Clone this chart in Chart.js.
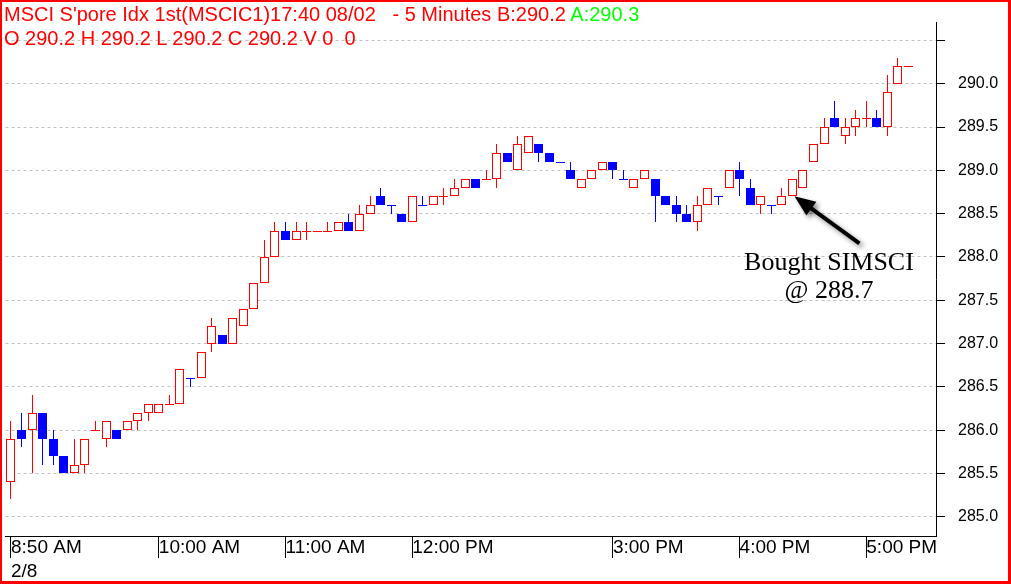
<!DOCTYPE html>
<html><head><meta charset="utf-8">
<script src="https://cdn.jsdelivr.net/npm/chart.js@4.4.0/dist/chart.umd.min.js"></script>
<style>
html,body{margin:0;padding:0;background:#fff;}
#wrap{position:relative;width:1011px;height:584px;overflow:hidden;background:#fff;}
#c{position:absolute;left:0;top:0;}
#frame{position:absolute;left:0;top:0;width:1011px;height:584px;box-sizing:border-box;border-style:solid;border-color:#ff0000;border-width:2px 3px 3px 2px;pointer-events:none;}
.hdr{position:absolute;left:4px;font-family:"Liberation Sans",Arial,sans-serif;font-size:20px;line-height:24px;color:#ff0000;white-space:pre;}
.note{position:absolute;left:729px;top:248px;width:200px;text-align:center;font-family:"Liberation Serif","Times New Roman",serif;font-size:26px;line-height:28px;color:#000;}
</style></head>
<body>
<div id="wrap">
<canvas id="c" width="1011" height="584"></canvas>
<div class="hdr" style="top:2px">MSCI S'pore Idx 1st(MSCIC1)17:40 08/02   - 5 Minutes B:290.2 <span style="color:#00ff00">A:290.3</span></div>
<div class="hdr" style="top:26px">O 290.2 H 290.2 L 290.2 C 290.2 V 0  0</div>
<div class="note">Bought SIMSCI<br>@ 288.7</div>
<div id="frame"></div>
</div>
<script>
// 5-minute bars, 2/8
const times = [
 "08:50","08:55","09:00","09:05","09:10","09:15","09:20","09:25","09:30","09:35","09:40","09:45","09:50","09:55",
 "10:00","10:05","10:10","10:15","10:20","10:25","10:30","10:35","10:40","10:45","10:50","10:55",
 "11:00","11:05","11:10","11:15","11:20","11:25","11:30","11:35","11:40","11:45","11:50","11:55",
 "12:00","12:05","12:10","12:15","12:20","12:25","12:30",
 "14:00","14:05","14:10","14:15","14:20","14:25","14:30","14:35","14:40","14:45","14:50","14:55",
 "15:00","15:05","15:10","15:15","15:20","15:25","15:30","15:35","15:40","15:45","15:50","15:55",
 "16:00","16:05","16:10","16:15","16:20","16:25","16:30","16:35","16:40","16:45","16:50","16:55",
 "17:00","17:05","17:10","17:15","17:20"
];
const openP = [285.4,286.0,286.0,286.2,285.9,285.7,285.5,285.6,286.0,285.9,
 286.0,286.0,286.1,286.2,286.2,286.3,286.3,286.6,286.6,287.0,
 287.1,287.0,287.2,287.4,287.7,288.0,288.3,288.2,288.3,288.3,
 288.3,288.3,288.4,288.3,288.5,288.7,288.6,288.5,288.4,288.6,
 288.6,288.7,288.7,288.8,288.9,288.9,288.9,289.2,289.0,289.2,
 289.3,289.2,289.1,289.0,288.8,288.9,289.0,289.1,288.9,288.8,
 288.9,288.9,288.7,288.6,288.5,288.4,288.6,288.7,288.8,289.0,
 288.8,288.6,288.6,288.6,288.7,288.8,289.1,289.3,289.6,289.4,
 289.5,289.6,289.6,289.5,290.0,290.2];
const highP = [286.1,286.2,286.4,286.2,286.0,285.7,285.9,285.9,286.1,286.1,
 286.0,286.1,286.2,286.3,286.3,286.4,286.7,286.6,286.9,287.3,
 287.1,287.3,287.4,287.7,288.2,288.4,288.4,288.4,288.4,288.3,
 288.4,288.4,288.5,288.6,288.7,288.8,288.6,288.5,288.7,288.7,
 288.7,288.8,288.9,288.9,288.9,289.0,289.3,289.2,289.4,289.4,
 289.3,289.2,289.1,289.1,288.9,289.0,289.1,289.1,289.0,288.9,
 289.0,288.9,288.7,288.7,288.6,288.7,288.8,288.7,289.0,289.1,
 288.9,288.7,288.6,288.8,288.9,289.0,289.3,289.6,289.8,289.6,
 289.7,289.8,289.7,290.1,290.3,290.2];
const lowP = [285.2,285.8,285.5,285.6,285.6,285.5,285.5,285.5,286.0,285.8,
 285.9,286.0,286.0,286.1,286.2,286.3,286.3,286.5,286.6,286.9,
 287.0,287.0,287.2,287.4,287.7,288.0,288.2,288.2,288.2,288.3,
 288.3,288.3,288.3,288.3,288.5,288.6,288.5,288.4,288.4,288.6,
 288.6,288.6,288.7,288.8,288.8,288.9,288.8,289.1,289.0,289.2,
 289.1,289.1,289.1,288.9,288.8,288.9,289.0,288.9,288.9,288.8,
 288.9,288.4,288.6,288.4,288.4,288.3,288.6,288.6,288.8,288.7,
 288.6,288.5,288.5,288.6,288.7,288.8,289.1,289.3,289.5,289.3,
 289.4,289.5,289.5,289.4,290.0,290.2];
const closeP = [285.9,285.9,286.2,285.9,285.7,285.5,285.6,285.9,286.0,286.1,
 285.9,286.1,286.2,286.3,286.3,286.3,286.7,286.6,286.9,287.2,
 287.0,287.3,287.4,287.7,288.0,288.3,288.2,288.3,288.3,288.3,
 288.3,288.4,288.3,288.5,288.6,288.6,288.6,288.4,288.7,288.6,
 288.7,288.7,288.8,288.9,288.8,288.9,289.2,289.1,289.3,289.4,
 289.2,289.1,289.1,288.9,288.9,289.0,289.1,289.0,288.9,288.9,
 289.0,288.7,288.6,288.5,288.4,288.6,288.8,288.7,289.0,288.9,
 288.6,288.7,288.6,288.7,288.9,289.0,289.3,289.5,289.5,289.5,
 289.6,289.6,289.5,289.9,290.2,290.2];
const tickTimes = ["08:50","10:00","11:00","12:00","15:00","16:00","17:00"];
const tickText = [["8:50 AM","2/8"],"10:00 AM","11:00 AM","12:00 PM","3:00 PM","4:00 PM","5:00 PM"];
const boughtTime = "16:25";
const boughtPrice = 288.7;

const RED = '#ff0000', BLUE = '#0000ff';
const isUp = [];
closeP.forEach((c, i) => {
  const o = openP[i];
  let u;
  if (c > o) u = true;
  else if (c < o) u = false;
  else if (i > 0 && c > closeP[i-1]) u = true;
  else if (i > 0 && c < closeP[i-1]) u = false;
  else u = i > 0 ? isUp[i-1] : true;
  isUp.push(u);
});

const bodyIdx = times.map((t, i) => i).filter(i => openP[i] !== closeP[i]);
const dojiIdx = times.map((t, i) => i).filter(i => openP[i] === closeP[i]);

const bodies = {
  type: 'bar', order: 0, grouped: false,
  data: bodyIdx.map(i => ({x: i, y: [Math.min(openP[i], closeP[i]), Math.max(openP[i], closeP[i])]})),
  backgroundColor: bodyIdx.map(i => isUp[i] ? '#ffffff' : BLUE),
  borderColor: bodyIdx.map(i => isUp[i] ? RED : BLUE),
  borderWidth: 1, borderSkipped: false, barThickness: 9, inflateAmount: 0
};
const dojis = {
  type: 'line', order: 1, showLine: false,
  data: dojiIdx.map(i => ({x: i, y: closeP[i]})),
  pointStyle: 'line', pointRadius: 4.5, pointHoverRadius: 4.5, pointBorderWidth: 1,
  pointBorderColor: dojiIdx.map(i => isUp[i] ? RED : BLUE),
  borderColor: RED
};
const wicks = {
  type: 'bar', order: 2, grouped: false,
  data: times.map((t, i) => ({x: i, y: [lowP[i], highP[i]]})),
  backgroundColor: times.map((t, i) => isUp[i] ? RED : BLUE),
  borderWidth: 0, barThickness: 1, inflateAmount: 0
};

// snap the scale-computed element positions to whole device pixels for crisp 1px strokes
const snapPlugin = {
  id: 'pixelSnap',
  beforeDatasetsDraw(chart) {
    chart.getSortedVisibleDatasetMetas().forEach(meta => {
      meta.data.forEach(el => {
        if (meta.type === 'bar') {
          el.x = Math.floor(el.x) + 0.5;
          el.y = Math.round(el.y);
          el.base = Math.round(el.base);
        } else {
          el.x = Math.floor(el.x) + 0.5;
          el.y = Math.round(el.y) + 0.5;
        }
      });
    });
  }
};

const arrowPlugin = {
  id: 'boughtArrow',
  afterDatasetsDraw(chart) {
    const {ctx, scales: {x, y}} = chart;
    const tx = x.getPixelForValue(times.indexOf(boughtTime)) + 2;
    const ty = y.getPixelForValue(boughtPrice);
    const ex = tx + 65, ey = ty + 47;
    const len = Math.hypot(ex - tx, ey - ty);
    const ux = (ex - tx) / len, uy = (ey - ty) / len, px = -uy, py = ux;
    ctx.save();
    ctx.shadowColor = 'rgba(0,0,0,0.45)';
    ctx.shadowBlur = 5; ctx.shadowOffsetX = 3; ctx.shadowOffsetY = 3;
    ctx.strokeStyle = '#000'; ctx.fillStyle = '#000'; ctx.lineWidth = 4;
    ctx.beginPath(); ctx.moveTo(tx + ux * 16, ty + uy * 16); ctx.lineTo(ex, ey); ctx.stroke();
    ctx.beginPath();
    ctx.moveTo(tx, ty);
    ctx.lineTo(tx + ux * 21 + px * 8.5, ty + uy * 21 + py * 8.5);
    ctx.lineTo(tx + ux * 21 - px * 8.5, ty + uy * 21 - py * 8.5);
    ctx.closePath(); ctx.fill();
    ctx.restore();
  }
};

new Chart(document.getElementById('c'), {
  type: 'bar',
  data: { datasets: [bodies, dojis, wicks] },
  plugins: [snapPlugin, arrowPlugin],
  options: {
    responsive: false, animation: false, devicePixelRatio: 1,
    layout: { padding: { top: 22, left: 2, right: 0, bottom: 0 } },
    plugins: { legend: { display: false }, tooltip: { enabled: false } },
    scales: {
      x: {
        type: 'linear', min: -0.52, max: 87.6, offset: false,
        afterFit: s => { s.height = 48; },
        afterBuildTicks: s => { s.ticks = tickTimes.map(t => ({value: times.indexOf(t)})); },
        ticks: {
          autoSkip: false, maxRotation: 0, minRotation: 0, align: 'start', labelOffset: 0, padding: -22,
          color: '#000', font: { family: '"Liberation Sans", Arial, sans-serif', size: 19, lineHeight: '24px' },
          callback: v => { const k = tickTimes.indexOf(times[v]); return k >= 0 ? tickText[k] : ''; }
        },
        grid: { offset: false, drawOnChartArea: false, tickLength: 22, tickColor: '#000', color: '#000' },
        border: { display: true, color: '#000', width: 1 }
      },
      y: {
        position: 'right', min: 284.777, max: 290.706,
        afterFit: s => { s.width = 75; },
        ticks: {
          stepSize: 0.5, includeBounds: false, padding: 13, color: '#000',
          font: { family: '"Liberation Sans", Arial, sans-serif', size: 16 },
          callback: v => v > 290.2 ? '' : Number(v).toFixed(1)
        },
        grid: { color: '#c0c0c0', tickColor: '#000', tickLength: 9, lineWidth: 1 },
        border: { display: true, color: '#000', width: 1, dash: [3, 3] }
      }
    }
  }
});
</script>
</body></html>
